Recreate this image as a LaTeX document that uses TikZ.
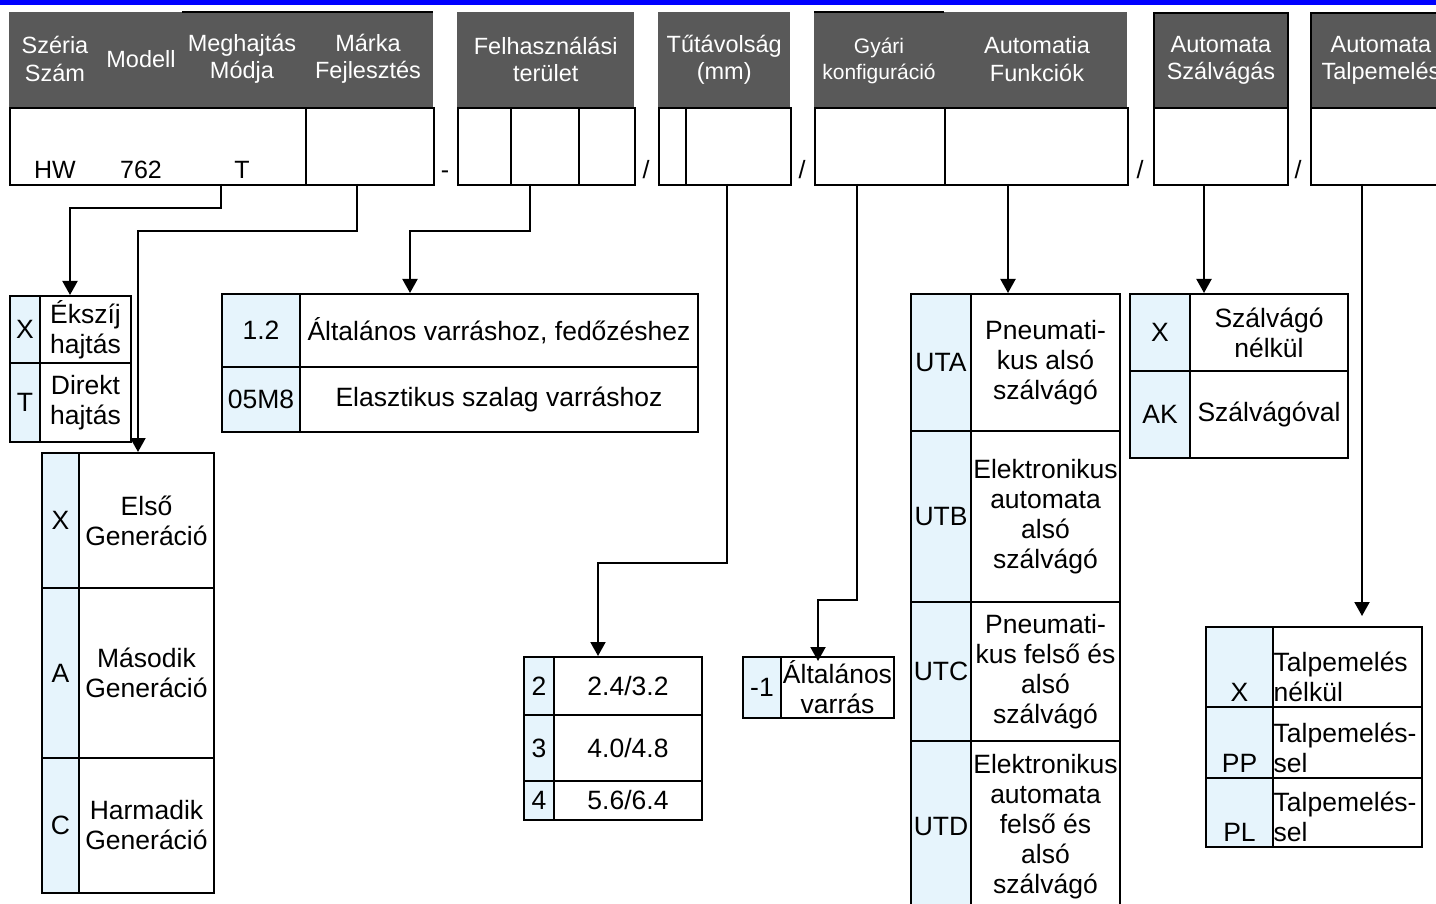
\documentclass[tikz,border=0pt]{standalone}
\usepackage{fontspec}
\setmainfont{Liberation Sans}
\usetikzlibrary{arrows.meta}
\definecolor{headgray}{RGB}{89,89,89}
\definecolor{codeblue}{RGB}{230,244,252}
\definecolor{topblue}{RGB}{0,0,255}
\newcommand{\headtxt}{\fontsize{23.5}{27.5}\selectfont}
\newcommand{\smalltxt}{\fontsize{21}{26}\selectfont}
\newcommand{\celltxt}{\fontsize{26.5}{30}\selectfont}
\newcommand{\valuetxt}{\fontsize{25}{30}\selectfont}
\tikzset{
	headbox/.style={fill=headgray, anchor=north west, inner sep=0pt},
	htext/.style={text=white, font=\headtxt, align=center, inner sep=0pt},
	cell/.style={draw, line width=2pt, anchor=north west, inner sep=0pt, align=center, font=\celltxt},
	codecell/.style={cell, fill=codeblue},
	valtxt/.style={font=\valuetxt, inner sep=0pt},
	rowtxt/.style={font=\celltxt, inner sep=0pt},
	arr/.style={line width=2pt, -{Triangle[length=14pt,width=15pt]}}
}
\begin{document}
\begin{tikzpicture}[x=1pt, y=-1pt]
	\useasboundingbox (0,0) rectangle (1436,904);
	\fill[topblue] (0,0) rectangle (1436,5);

	\node[headbox, minimum width=424, minimum height=95] (h1) at (9,12) {};
	\draw[line width=2pt] (h1.north west) ++(173,0) -- (h1.north east);
	\node[htext] (h1a) at (55,59) {Széria\\Szám};
	\node[htext] (h1b) at (141,59) {Modell};
	\node[htext] (h1c) at (242,59) {Meghajtás\\Módja};
	\node[htext] (h1d) at (368,59) {Márka\\Fejlesztés};
	\node[headbox, minimum width=177, minimum height=95] (h2) at (457,12) {};
	\node[htext] (h2a) at (h2) {Felhasználási\\terület};
	\node[headbox, minimum width=132, minimum height=95] (h3) at (658,12) {};
	\node[htext] (h3a) at (h3) {Tűtávolság\\(mm)};
	\node[headbox, minimum width=313, minimum height=95] (h4) at (814,12) {};
	\draw[line width=2pt] (h4.north west) -- ++(130,0);
	\node[htext, font=\smalltxt] (h4a) at (879,61) {Gyári\\konfiguráció};
	\node[htext] (h4b) at (1037,59) {Automatia\\Funkciók};
	\node[headbox, draw, line width=2pt, minimum width=134, minimum height=95] (h5) at (1153,12) {};
	\node[htext] (h5a) at (h5) {Automata\\Szálvágás};
	\node[headbox, draw, line width=2pt, minimum width=140, minimum height=95] (h6) at (1310,12) {};
	\node[htext] (h6a) at (h6) {Automata\\Talpemelés};

	\node[cell, minimum width=296, minimum height=77] (v1a) at (9,107) {};
	\node[cell, minimum width=128, minimum height=77] (v1b) at (305,107) {};
	\node[valtxt, anchor=base] (t1) at (55,179) {HW};
	\node[valtxt, anchor=base] (t2) at (141,179) {762};
	\node[valtxt, anchor=base] (t3) at (242,179) {T};
	\node[valtxt, anchor=base] (sep1) at (445,179) {-};
	\node[cell, minimum width=53, minimum height=77] (v2a) at (457,107) {};
	\node[cell, minimum width=68, minimum height=77] (v2b) at (510,107) {};
	\node[cell, minimum width=56, minimum height=77] (v2c) at (578,107) {};
	\node[valtxt, anchor=base] (sep2) at (646,179) {/};
	\node[cell, minimum width=27, minimum height=77] (v3a) at (658,107) {};
	\node[cell, minimum width=105, minimum height=77] (v3b) at (685,107) {};
	\node[valtxt, anchor=base] (sep3) at (802,179) {/};
	\node[cell, minimum width=130, minimum height=77] (v4a) at (814,107) {};
	\node[cell, minimum width=183, minimum height=77] (v4b) at (944,107) {};
	\node[valtxt, anchor=base] (sep4) at (1140,179) {/};
	\node[cell, minimum width=134, minimum height=77] (v5) at (1153,107) {};
	\node[valtxt, anchor=base] (sep5) at (1298,179) {/};
	\node[cell, minimum width=140, minimum height=77] (v6) at (1310,107) {};

	\node[codecell, minimum width=30, minimum height=67] (drv1c) at (9,295) {X};
	\node[cell, minimum width=91, minimum height=67] (drv1t) at (39,295) {Ékszíj\\hajtás};
	\node[codecell, minimum width=30, minimum height=79] (drv2c) at (9,362) {T};
	\node[cell, minimum width=91, minimum height=79] (drv2t) at (39,362) {Direkt\\hajtás};

	\node[codecell, minimum width=37, minimum height=135] (gen1c) at (41,452) {X};
	\node[cell, minimum width=135, minimum height=135] (gen1t) at (78,452) {Első\\Generáció};
	\node[codecell, minimum width=37, minimum height=170] (gen2c) at (41,587) {A};
	\node[cell, minimum width=135, minimum height=170] (gen2t) at (78,587) {Második\\Generáció};
	\node[codecell, minimum width=37, minimum height=135] (gen3c) at (41,757) {C};
	\node[cell, minimum width=135, minimum height=135] (gen3t) at (78,757) {Harmadik\\Generáció};

	\node[codecell, minimum width=78, minimum height=73] (use1c) at (221,293) {1.2};
	\node[cell, minimum width=398, minimum height=73] (use1t) at (299,293) {Általános varráshoz, fedőzéshez};
	\node[codecell, minimum width=78, minimum height=65] (use2c) at (221,366) {05M8};
	\node[cell, minimum width=398, minimum height=65] (use2t) at (299,366) {Elasztikus szalag varráshoz};

	\node[codecell, minimum width=30, minimum height=58] (ndl1c) at (523,656) {2};
	\node[cell, minimum width=148, minimum height=58] (ndl1t) at (553,656) {2.4/3.2};
	\node[codecell, minimum width=30, minimum height=66] (ndl2c) at (523,714) {3};
	\node[cell, minimum width=148, minimum height=66] (ndl2t) at (553,714) {4.0/4.8};
	\node[codecell, minimum width=30, minimum height=39] (ndl3c) at (523,780) {4};
	\node[cell, minimum width=148, minimum height=39] (ndl3t) at (553,780) {5.6/6.4};

	\node[codecell, minimum width=38, minimum height=61] (cfg1c) at (742,656) {-1};
	\node[cell, minimum width=113, minimum height=61] (cfg1t) at (780,656) {Általános\\varrás};

	\node[codecell, minimum width=60, minimum height=137] (fun1c) at (910,293) {UTA};
	\node[cell, minimum width=149, minimum height=137] (fun1t) at (970,293) {Pneumati-\\kus alsó\\szálvágó};
	\node[codecell, minimum width=60, minimum height=171] (fun2c) at (910,430) {UTB};
	\node[cell, minimum width=149, minimum height=171] (fun2t) at (970,430) {Elektronikus\\automata\\alsó\\szálvágó};
	\node[codecell, minimum width=60, minimum height=139] (fun3c) at (910,601) {UTC};
	\node[cell, minimum width=149, minimum height=139] (fun3t) at (970,601) {Pneumati-\\kus felső és\\alsó\\szálvágó};
	\node[codecell, minimum width=60, minimum height=172] (fun4c) at (910,740) {UTD};
	\node[cell, minimum width=149, minimum height=172] (fun4t) at (970,740) {Elektronikus\\automata\\felső és\\alsó\\szálvágó};

	\node[codecell, minimum width=60, minimum height=77] (cut1c) at (1129,293) {X};
	\node[cell, minimum width=158, minimum height=77] (cut1t) at (1189,293) {Szálvágó\\nélkül};
	\node[codecell, minimum width=60, minimum height=87] (cut2c) at (1129,370) {AK};
	\node[cell, minimum width=158, minimum height=87] (cut2t) at (1189,370) {Szálvágóval};

	\node[codecell, minimum width=67, minimum height=80] (lift1c) at (1205,626) {};
	\node[cell, minimum width=149, minimum height=80] (lift1t) at (1272,626) {};
	\node[codecell, minimum width=67, minimum height=71] (lift2c) at (1205,706) {};
	\node[cell, minimum width=149, minimum height=71] (lift2t) at (1272,706) {};
	\node[codecell, minimum width=67, minimum height=69] (lift3c) at (1205,777) {};
	\node[cell, minimum width=149, minimum height=69] (lift3t) at (1272,777) {};
	\node[rowtxt, anchor=south, inner ysep=6pt] (lift1k) at (lift1c.south) {X};
	\node[rowtxt, anchor=south west, align=left, inner xsep=1.5pt, inner ysep=6pt] (lift1v) at (lift1t.south west) {Talpemelés\\nélkül};
	\node[rowtxt, anchor=south, inner ysep=6pt] (lift2k) at (lift2c.south) {PP};
	\node[rowtxt, anchor=south west, align=left, inner xsep=1.5pt, inner ysep=6pt] (lift2v) at (lift2t.south west) {Talpemelés-\\sel};
	\node[rowtxt, anchor=south, inner ysep=6pt] (lift3k) at (lift3c.south) {PL};
	\node[rowtxt, anchor=south west, align=left, inner xsep=1.5pt, inner ysep=6pt] (lift3v) at (lift3t.south west) {Talpemelés-\\sel};

	\coordinate (s1) at (221,184);
	\coordinate (k1) at (70,208);
	\draw[arr] (s1) |- (k1) -- (k1 |- drv1c.north);
	\coordinate (s2) at (357,184);
	\coordinate (k2) at (138,231);
	\draw[arr] (s2) |- (k2) -- (k2 |- gen1t.north);
	\coordinate (s3) at (530,184);
	\coordinate (k3) at (410,231);
	\draw[arr] (s3) |- (k3) -- (k3 |- use1t.north);
	\coordinate (s4) at (727,184);
	\coordinate (k4) at (598,563);
	\draw[arr] (s4) |- (k4) -- (k4 |- ndl1t.north);
	\coordinate (s5) at (857,184);
	\coordinate (k5) at (818,600);
	\draw[arr, shorten >=-5pt] (s5) |- (k5) -- (k5 |- cfg1t.north);
	\coordinate (s6) at (1008,184);
	\draw[arr] (s6) -- (s6 |- fun1t.north);
	\coordinate (s7) at (1204,184);
	\draw[arr] (s7) -- (s7 |- cut1t.north);
	\coordinate (s8) at (1362,184);
	\draw[arr, shorten >=10pt] (s8) -- (s8 |- lift1t.north);
\end{tikzpicture}
\end{document}
